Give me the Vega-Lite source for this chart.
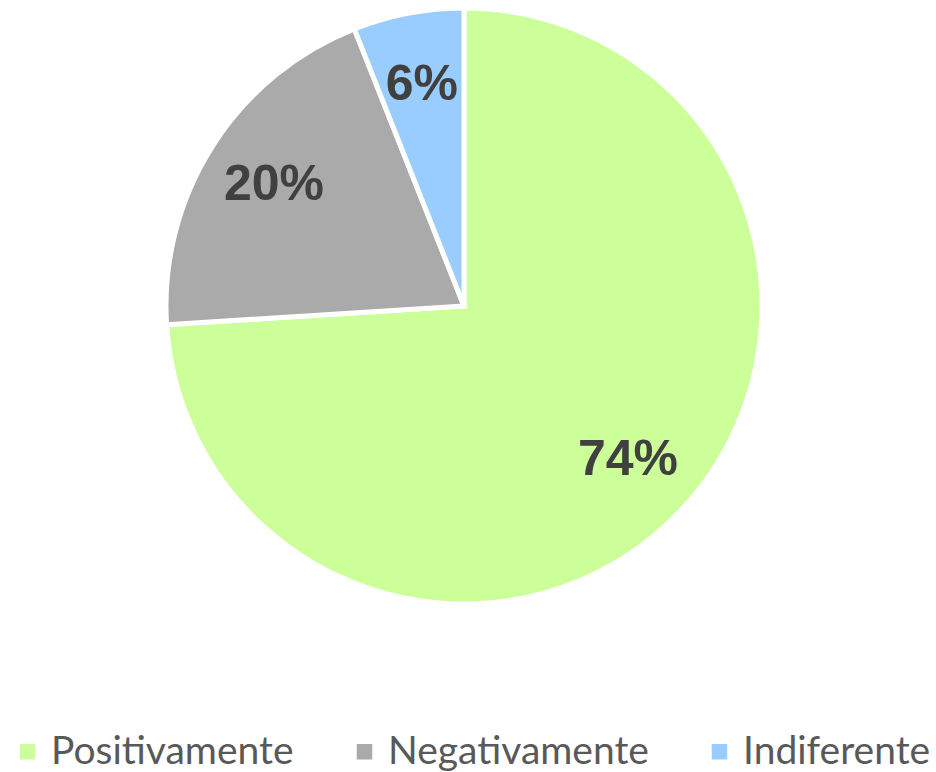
{
  "$schema": "https://vega.github.io/schema/vega-lite/v6.json",
  "width": 928,
  "height": 612,
  "autosize": "none",
  "padding": {"left": 0, "top": 0, "right": 8, "bottom": 160},
  "background": "white",
  "data": {
    "values": [
      {"category": "Positivamente", "value": 74, "label": "74%", "order": 1},
      {"category": "Negativamente", "value": 20, "label": "20%", "order": 2},
      {"category": "Indiferente", "value": 6, "label": "6%", "order": 3}
    ]
  },
  "encoding": {
    "theta": {"field": "value", "type": "quantitative", "stack": true},
    "order": {"field": "order", "type": "quantitative", "sort": "ascending"}
  },
  "layer": [
    {
      "mark": {"type": "arc", "outerRadius": 298, "stroke": "white", "strokeWidth": 5, "strokeJoin": "miter"},
      "encoding": {
        "color": {
          "field": "category",
          "type": "nominal",
          "sort": ["Positivamente", "Negativamente", "Indiferente"],
          "scale": {
            "domain": ["Positivamente", "Negativamente", "Indiferente"],
            "range": ["#ccff99", "#aaaaaa", "#99ccff"]
          },
          "legend": {
            "title": null,
            "orient": "none",
            "direction": "horizontal",
            "legendX": 8,
            "legendY": 732,
            "symbolType": "square",
            "symbolSize": 240,
            "symbolStrokeWidth": 0,
            "labelFont": "Lato",
            "labelFontSize": 39,
            "labelColor": "#595959",
            "labelOffset": 4,
            "columnPadding": 51,
            "labelLimit": 400,
            "padding": 0
          }
        }
      }
    },
    {
      "mark": {"type": "text", "radius": 225, "font": "Liberation Sans", "fontWeight": "bold", "fontSize": 50, "color": "#404040", "baseline": "middle", "align": "center"},
      "encoding": {
        "text": {"field": "label", "type": "nominal"}
      }
    }
  ],
  "config": {"view": {"stroke": null}}
}
